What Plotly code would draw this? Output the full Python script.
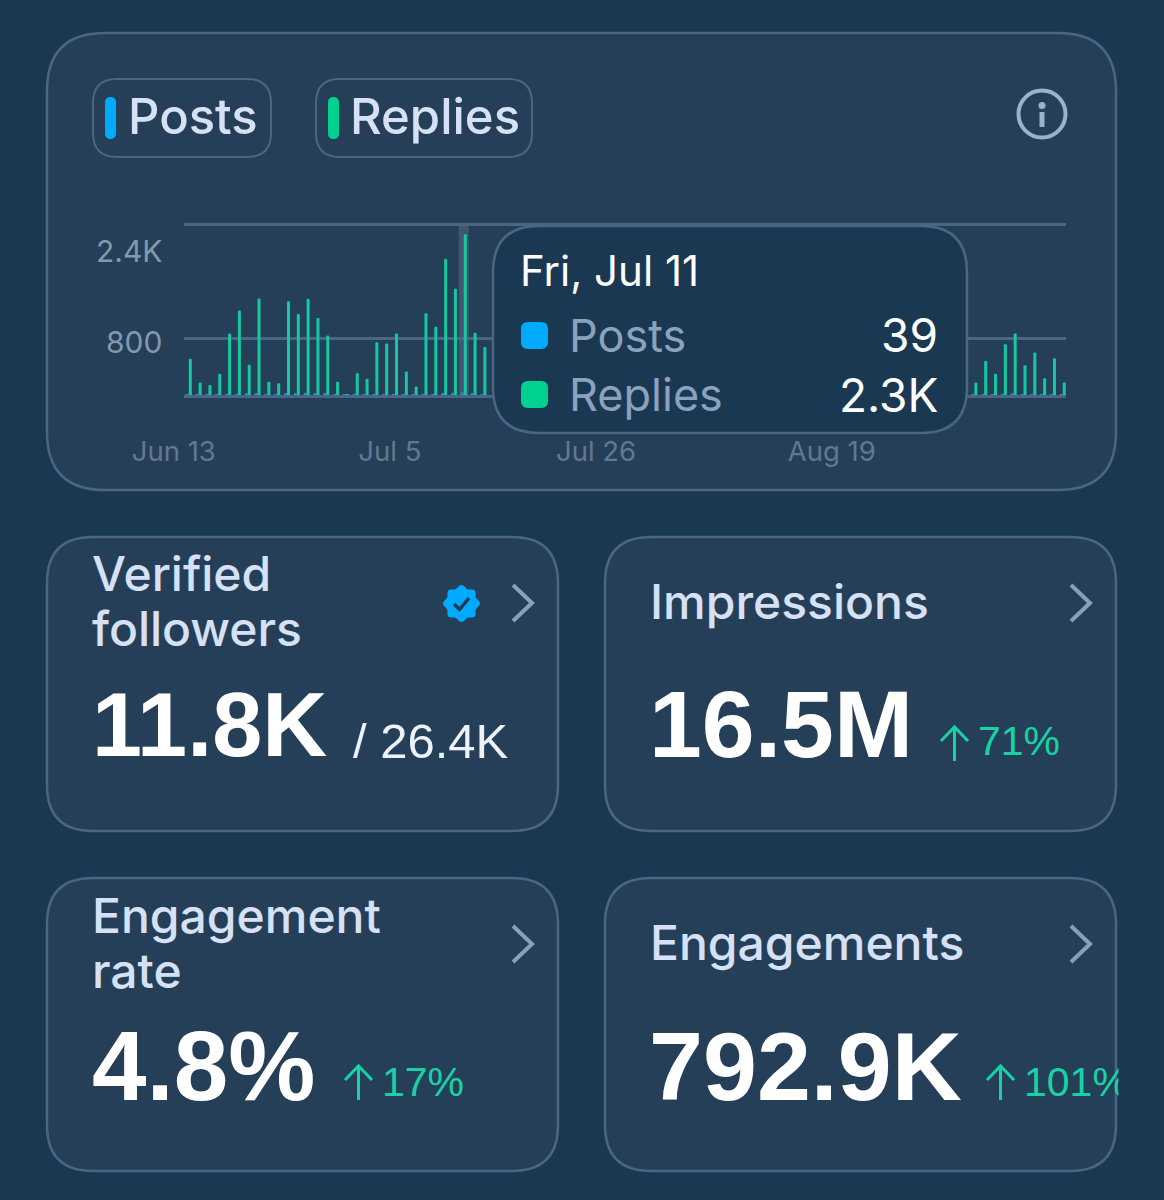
import math
import pandas as pd
import plotly.graph_objects as go

W, H = 1164, 1200
BG = '#1a3852'
CARD = '#263f59'
BORDER = '#4a6683'
BLUE = '#00aaff'
GREEN = '#00d18f'
BAR_GREEN = '#14c9a0'
LABEL = '#d6e1f5'

# days hidden behind the tooltip are left out
replies_a = [511, 175, 142, 298, 866, 1188, 426, 1359, 185, 166, 1321, 1141, 1354, 1084, 838, 185,
             10, 308, 227, 743, 724, 866, 331, 118, 1150, 961, 1918, 1496, 2263, 876, 677]
posts_a = [6, 8, 10, 7, 14, 10, 16, 22, 6, 14, 28, 18, 30, 26, 22, 8,
           8, 6, 8, 10, 12, 8, 10, 8, 12, 10, 20, 32, 39, 16, 14]
replies_b = [175, 478, 298, 715, 866, 417, 597, 237, 516, 175]
posts_b = [8, 10, 12, 14, 18, 12, 10, 14, 12, 8]

dates = pd.date_range('2025-06-13', periods=90)
df = pd.DataFrame({'Date': list(dates[:31]) + list(dates[80:]),
                   'Posts': posts_a + posts_b,
                   'Replies': replies_a + replies_b})


def px(x):
    return x / W


def py(y):
    return 1 - y / H


def rrect(x0, y0, x1, y1, r):
    pts = [('M', x0 + r, y0), ('L', x1 - r, y0), ('Q', x1, y0, x1, y0 + r), ('L', x1, y1 - r),
           ('Q', x1, y1, x1 - r, y1), ('L', x0 + r, y1), ('Q', x0, y1, x0, y1 - r),
           ('L', x0, y0 + r), ('Q', x0, y0, x0 + r, y0)]
    s = ''
    for p in pts:
        s += p[0]
        s += ' '.join('%.5f,%.5f' % (px(p[i]), py(p[i + 1])) for i in range(1, len(p), 2)) + ' '
    return s + 'Z'


def line_path(points):
    return 'M' + ' L'.join('%.5f,%.5f' % (px(a), py(b)) for a, b in points)


shapes = []


def box(x0, y0, x1, y1, r, fill, border=None, width=2.5, layer='below'):
    shapes.append(dict(type='path', path=rrect(x0, y0, x1, y1, r), xref='paper', yref='paper',
                       fillcolor=fill, line=dict(color=border or fill, width=width if border else 0),
                       layer=layer))


def stroke(points, color, width, layer='below'):
    shapes.append(dict(type='path', path=line_path(points), xref='paper', yref='paper',
                       line=dict(color=color, width=width), layer=layer))


annotations = []


def text(x, y, s, size, color=LABEL, anchor='left', family='Inter', weight=400):
    annotations.append(dict(x=px(x), y=py(y), xref='paper', yref='paper', text=s, showarrow=False,
                            xanchor=anchor, yanchor='middle', borderpad=0,
                            font=dict(size=size, color=color, family=family, weight=weight)))


def up_arrow(x, y):
    # x is the left edge of the arrow head, y its tip
    c = x + 13.5
    stroke([(c, y), (c, y + 34)], GLOW, 3)
    stroke([(x, y + 14), (c, y), (x + 27, y + 14)], GLOW, 3)


# cards
box(47, 33, 1116, 490, 58, CARD, BORDER)
box(47, 537, 558, 831, 46, CARD, BORDER)
box(605, 537, 1116, 831, 46, CARD, BORDER)
box(47, 878, 558, 1171, 46, CARD, BORDER)
box(605, 878, 1116, 1171, 46, CARD, BORDER)

# series pills
box(93, 79, 271, 157, 24, CARD, BORDER, 2)
box(105, 97, 116, 139, 5.5, BLUE)
text(127, 116, 'Posts', 49, weight=500)
box(316, 79, 532, 157, 24, CARD, BORDER, 2)
box(328, 97, 339, 139, 5.5, GREEN)
text(349, 116, 'Replies', 49, weight=500)

# info icon
shapes.append(dict(type='circle', xref='paper', yref='paper', x0=px(1018.5), x1=px(1065.5),
                   y0=py(137.5), y1=py(90.5), line=dict(color='#9ab2cd', width=4), layer='below'))
shapes.append(dict(type='circle', xref='paper', yref='paper', x0=px(1038.5), x1=px(1045.5),
                   y0=py(109), y1=py(102), fillcolor='#9ab2cd', line=dict(width=0), layer='below'))
stroke([(1042, 112), (1042, 127)], '#9ab2cd', 5)

# tick labels of the value axis sit apart from their gridlines
annotations.append(dict(x=px(164), xref='paper', y=2400, yref='y', yshift=-27, text='2.4K', showarrow=False,
                        xanchor='right', font=dict(size=30, color='#8299b0', family='Inter')))
annotations.append(dict(x=px(164), xref='paper', y=800, yref='y', yshift=-4, text='800', showarrow=False,
                        xanchor='right', font=dict(size=30, color='#8299b0', family='Inter')))

# highlighted day
shapes.append(dict(type='rect', xref='x', yref='y', x0=pd.Timestamp('2025-07-10 12:00'),
                   x1=pd.Timestamp('2025-07-11 12:00'), y0=0, y1=2400,
                   fillcolor='rgba(255,255,255,0.13)', line=dict(width=0), layer='below'))

# tooltip
box(493, 226, 967, 433, 46, BG, BORDER, 2.5, 'above')
box(521, 322, 548, 349, 7, BLUE, layer='above')
box(521, 381, 548, 408, 7, GREEN, layer='above')
text(519, 270, 'Fri, Jul 11', 42, 'white')
text(568, 335, 'Posts', 45, '#8aa2bd')
text(568, 395, 'Replies', 45, '#8aa2bd')
text(939, 335, '39', 46, 'white', 'right')
text(939, 395, '2.3K', 46, 'white', 'right')

# stat cards
BIG = 'Liberation Sans'
GLOW = '#17d3a3'
text(91, 574, 'Verified', 48, weight=500)
text(91, 628, 'followers', 48, weight=500)
text(91, 725, '11.8K', 90, 'white', family=BIG, weight=700)
text(352, 741, '/ 26.4K', 49, '#eef3fb', family=BIG)
text(649, 601, 'Impressions', 48, weight=500)
text(648, 724, '16.5M', 95, 'white', family=BIG, weight=700)
up_arrow(941, 727)
text(977, 741, '71%', 41, GLOW, family=BIG)
text(91, 915, 'Engagement', 48, weight=500)
text(91, 970, 'rate', 48, weight=500)
text(91, 1066, '4.8%', 98, 'white', family=BIG, weight=700)
up_arrow(345, 1066)
text(381, 1082, '17%', 41, GLOW, family=BIG)
text(649, 942, 'Engagements', 48, weight=500)
text(648, 1066, '792.9K', 97, 'white', family=BIG, weight=700)
up_arrow(987, 1066)
text(1023, 1082, '101%', 41, GLOW, family=BIG)
# the last figure runs off the card in the original
annotations.append(dict(x=px(1117.5), y=py(1083), xref='paper', yref='paper', text=' ', showarrow=False,
                        xanchor='left', yanchor='middle', width=48, height=60, bgcolor=BG, borderpad=0))

# chevrons
for cx, cy in [(513, 603), (1071, 603), (513, 944), (1071, 944)]:
    stroke([(cx, cy - 18), (cx + 19, cy), (cx, cy + 18)], '#8ba0b8', 4)

# verified badge
n = 48
badge = [(461.5 + (17 + 1.6 * math.cos(8 * 2 * math.pi * i / n)) * math.cos(2 * math.pi * i / n),
          603.5 + (17 + 1.6 * math.cos(8 * 2 * math.pi * i / n)) * math.sin(2 * math.pi * i / n))
         for i in range(n)]
shapes.append(dict(type='path', path=line_path(badge) + ' Z', xref='paper', yref='paper',
                   fillcolor=BLUE, line=dict(width=0), layer='below'))
stroke([(454, 604), (459.5, 609.5), (469, 598)], '#1f3b58', 3.5)

fig = go.Figure()
fig.add_trace(go.Bar(x=df['Date'], y=df['Posts'], name='Posts', marker_color='#1296e0', marker_line_width=0))
fig.add_trace(go.Bar(x=df['Date'], y=df['Replies'], name='Replies', marker_color=BAR_GREEN, marker_line_width=0))

day_px = 9.82
start = dates[0] - pd.Timedelta(days=4.8 / day_px)
end = dates[0] + pd.Timedelta(days=(1066 - 188.8) / day_px)
fig.update_layout(
    width=W, height=H, margin=dict(l=0, r=0, t=0, b=0, autoexpand=False), paper_bgcolor=BG,
    plot_bgcolor='rgba(0,0,0,0)',
    showlegend=False, barmode='group', bargap=0.39, bargroupgap=0, barcornerradius=2,
    shapes=shapes, annotations=annotations,
    xaxis=dict(domain=[px(184), px(1066)], range=[start, end], type='date', showgrid=False, zeroline=False,
               showline=True, linecolor=BORDER, linewidth=2.5, ticks='', automargin=False,
               tickvals=[dates[0], dates[22], dates[43], dates[67]], ticktext=['Jun 13', 'Jul 5', 'Jul 26', 'Aug 19'],
               tickfont=dict(size=27.5, color='#62788f', family='Inter'), ticklabelshift=-15, ticklabelstandoff=30),
    yaxis=dict(domain=[py(395), py(222)], range=[0, 2435], tickvals=[800, 2400], showticklabels=False,
               gridcolor=BORDER, gridwidth=2.5, zeroline=False, ticks='', automargin=False),
)

fig.write_html('out.html', config={'displayModeBar': False},
               post_script="document.body.style.margin='0';document.body.style.overflow='hidden';")
